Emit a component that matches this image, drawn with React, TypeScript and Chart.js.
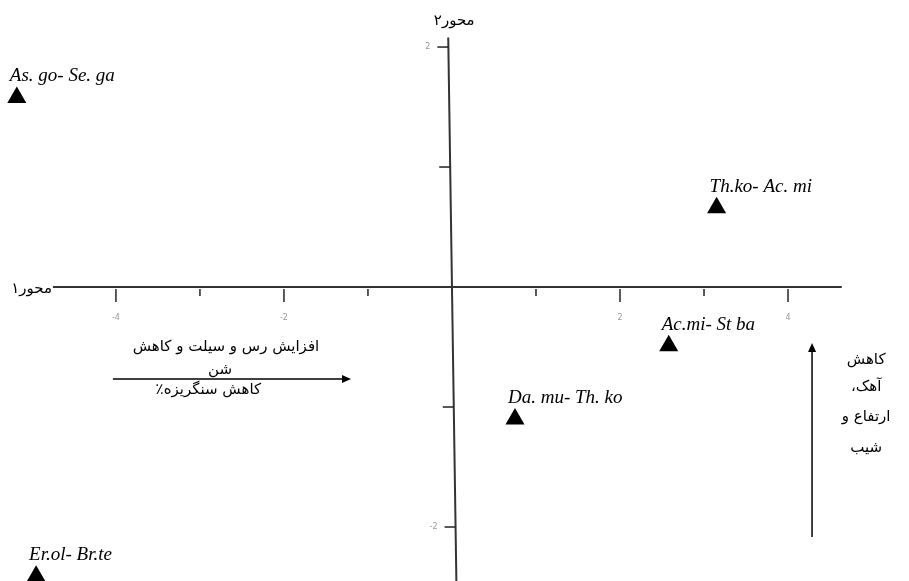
import React, { useEffect, useRef } from 'react';
import { Chart, registerables } from 'chart.js';

Chart.register(...registerables);

// ---- data ----
const SPECIES = ['As. go- Se. ga', 'Th.ko- Ac. mi', 'Ac.mi- St ba', 'Da. mu- Th. ko', 'Er.ol- Br.te'];
const AXIS1_SCORES = [-5.18, 3.15, 2.58, 0.75, -4.95];
const AXIS2_SCORES = [1.58, 0.66, -0.49, -1.1, -2.41];

const X_TICKS = [-4, -3, -2, -1, 1, 2, 3, 4];
const X_TICK_LABELS = ['-4', '', '-2', '', '', '2', '', '4'];
const Y_TICKS = [2, 1, -1, -2];
const Y_TICK_LABELS = ['2', '', '', '-2'];

const AXIS_TITLES = ['محور۱', 'محور۲'];
const GRADIENT1_LINES = ['افزایش رس و سیلت و کاهش', 'شن', 'کاهش سنگریزه٪'];
const GRADIENT2_LINES = ['کاهش', 'آهک،', 'ارتفاع و', 'شیب'];

// ---- scale extents (data units) ----
const X_MIN = -5.38;
const X_MAX = 5.44;
const Y_MIN = -2.45;
const Y_MAX = 2.392;
const AXIS1_FROM = -4.75;
const AXIS1_TO = 4.64;
const AXIS2_TOP = 2.08;
const AXIS2_TILT = 0.015;

// annotation anchors (data units)
const G1_ARROW = { from: -4.036, to: -1.202, y: -0.767 };
const G1_TEXT = [
  { x: -2.69, y: -0.5 },
  { x: -2.76, y: -0.69 },
  { x: -2.9, y: -0.86 },
];
const G2_ARROW = { x: 4.286, from: -2.083, to: -0.467 };
const G2_TEXT_X = 4.93;
const G2_TEXT_Y = [-0.608, -0.833, -1.083, -1.342];

const PERSIAN_FONT = '"DejaVu Sans", "Noto Sans", sans-serif';

function arrowHead(ctx: CanvasRenderingContext2D, x: number, y: number, angle: number) {
  const len = 9;
  const half = 4;
  ctx.save();
  ctx.translate(x, y);
  ctx.rotate(angle);
  ctx.beginPath();
  ctx.moveTo(0, 0);
  ctx.lineTo(-len, -half);
  ctx.lineTo(-len, half);
  ctx.closePath();
  ctx.fill();
  ctx.restore();
}

const ordinationPlugin = {
  id: 'ordination',
  beforeDatasetsDraw(chart: any) {
    const { ctx, scales } = chart;
    const xs = scales.x;
    const ys = scales.y;
    const X = (v: number) => xs.getPixelForValue(v);
    const Y = (v: number) => ys.getPixelForValue(v);
    const x0 = X(0);
    const y0 = Y(0);
    const axis2X = (py: number) => x0 + (py - y0) * AXIS2_TILT;

    ctx.save();
    ctx.strokeStyle = '#333';
    ctx.fillStyle = '#000';

    // axis 1 (horizontal)
    ctx.lineWidth = 2;
    ctx.beginPath();
    ctx.moveTo(X(AXIS1_FROM), y0);
    ctx.lineTo(X(AXIS1_TO), y0);
    ctx.stroke();

    // axis 2 (vertical, slightly tilted)
    const top = Y(AXIS2_TOP);
    const bottom = chart.height + 2;
    ctx.beginPath();
    ctx.moveTo(axis2X(top), top);
    ctx.lineTo(axis2X(bottom), bottom);
    ctx.stroke();

    // x ticks
    ctx.lineWidth = 1.5;
    ctx.strokeStyle = '#222';
    X_TICKS.forEach((v, i) => {
      const px = X(v);
      const major = X_TICK_LABELS[i] !== '';
      ctx.beginPath();
      ctx.moveTo(px, y0 + 2);
      ctx.lineTo(px, y0 + (major ? 15 : 9));
      ctx.stroke();
    });
    // y ticks
    Y_TICKS.forEach((v) => {
      const py = Y(v);
      const ax = axis2X(py);
      ctx.beginPath();
      ctx.moveTo(ax - 11, py);
      ctx.lineTo(ax, py);
      ctx.stroke();
    });

    // tick labels
    ctx.fillStyle = '#999';
    ctx.font = '8px "DejaVu Sans", sans-serif';
    ctx.textAlign = 'center';
    ctx.textBaseline = 'middle';
    X_TICKS.forEach((v, i) => {
      if (X_TICK_LABELS[i]) ctx.fillText(X_TICK_LABELS[i], X(v), y0 + 31);
    });
    ctx.textAlign = 'right';
    Y_TICKS.forEach((v, i) => {
      if (!Y_TICK_LABELS[i]) return;
      const py = Y(v);
      ctx.fillText(Y_TICK_LABELS[i], axis2X(py) - 18, py);
    });

    // Persian texts
    ctx.direction = 'rtl';
    ctx.fillStyle = '#000';
    ctx.font = `15px ${PERSIAN_FONT}`;
    ctx.textAlign = 'right';
    ctx.textBaseline = 'middle';
    ctx.fillText(AXIS_TITLES[0], X(AXIS1_FROM) - 1, y0 + 2);
    ctx.textAlign = 'center';
    ctx.fillText(AXIS_TITLES[1], axis2X(top) + 6, top - 16);

    // gradient 1 annotation
    ctx.font = `15px ${PERSIAN_FONT}`;
    GRADIENT1_LINES.forEach((t, i) => {
      ctx.fillText(t, X(G1_TEXT[i].x), Y(G1_TEXT[i].y));
    });
    ctx.strokeStyle = '#000';
    ctx.lineWidth = 1.5;
    const ay = Y(G1_ARROW.y);
    ctx.beginPath();
    ctx.moveTo(X(G1_ARROW.from), ay);
    ctx.lineTo(X(G1_ARROW.to) - 6, ay);
    ctx.stroke();
    arrowHead(ctx, X(G1_ARROW.to), ay, 0);

    // gradient 2 annotation
    const bx = X(G2_ARROW.x);
    ctx.beginPath();
    ctx.moveTo(bx, Y(G2_ARROW.from));
    ctx.lineTo(bx, Y(G2_ARROW.to) + 6);
    ctx.stroke();
    arrowHead(ctx, bx, Y(G2_ARROW.to), -Math.PI / 2);
    ctx.font = `15px ${PERSIAN_FONT}`;
    GRADIENT2_LINES.forEach((t, i) => {
      ctx.fillText(t, X(G2_TEXT_X), Y(G2_TEXT_Y[i]));
    });

    ctx.restore();
  },
  afterDatasetsDraw(chart: any) {
    const { ctx } = chart;
    const meta = chart.getDatasetMeta(0);
    ctx.save();
    ctx.fillStyle = '#000';
    ctx.font = 'italic 19px "Liberation Serif", "DejaVu Serif", serif';
    ctx.textAlign = 'left';
    ctx.textBaseline = 'alphabetic';
    meta.data.forEach((pt: any, i: number) => {
      ctx.fillText(SPECIES[i], pt.x - 7, pt.y - 16);
    });
    ctx.restore();
  },
};

export default function App() {
  const canvasRef = useRef<HTMLCanvasElement | null>(null);

  useEffect(() => {
    const canvas = canvasRef.current;
    if (!canvas) return;
    const chart = new Chart(canvas, {
      type: 'scatter',
      data: {
        datasets: [
          {
            label: 'species groups',
            data: AXIS1_SCORES.map((x, i) => ({ x, y: AXIS2_SCORES[i] })),
            pointStyle: 'triangle',
            pointRadius: 11,
            pointHoverRadius: 11,
            backgroundColor: '#000',
            borderColor: '#000',
            borderWidth: 0,
            clip: false as any,
          },
        ],
      },
      options: {
        animation: false,
        responsive: false,
        maintainAspectRatio: false,
        layout: { padding: 0, autoPadding: false } as any,
        events: [],
        plugins: {
          legend: { display: false },
          tooltip: { enabled: false },
        },
        scales: {
          x: { type: 'linear', min: X_MIN, max: X_MAX, display: false },
          y: { type: 'linear', min: Y_MIN, max: Y_MAX, display: false },
        },
      },
      plugins: [ordinationPlugin],
    });
    return () => chart.destroy();
  }, []);

  return (
    <div style={{ position: 'fixed', left: 0, top: 0, width: 909, height: 581, background: '#fff' }}>
      <canvas ref={canvasRef} width={909} height={581} style={{ display: 'block' }} />
    </div>
  );
}
